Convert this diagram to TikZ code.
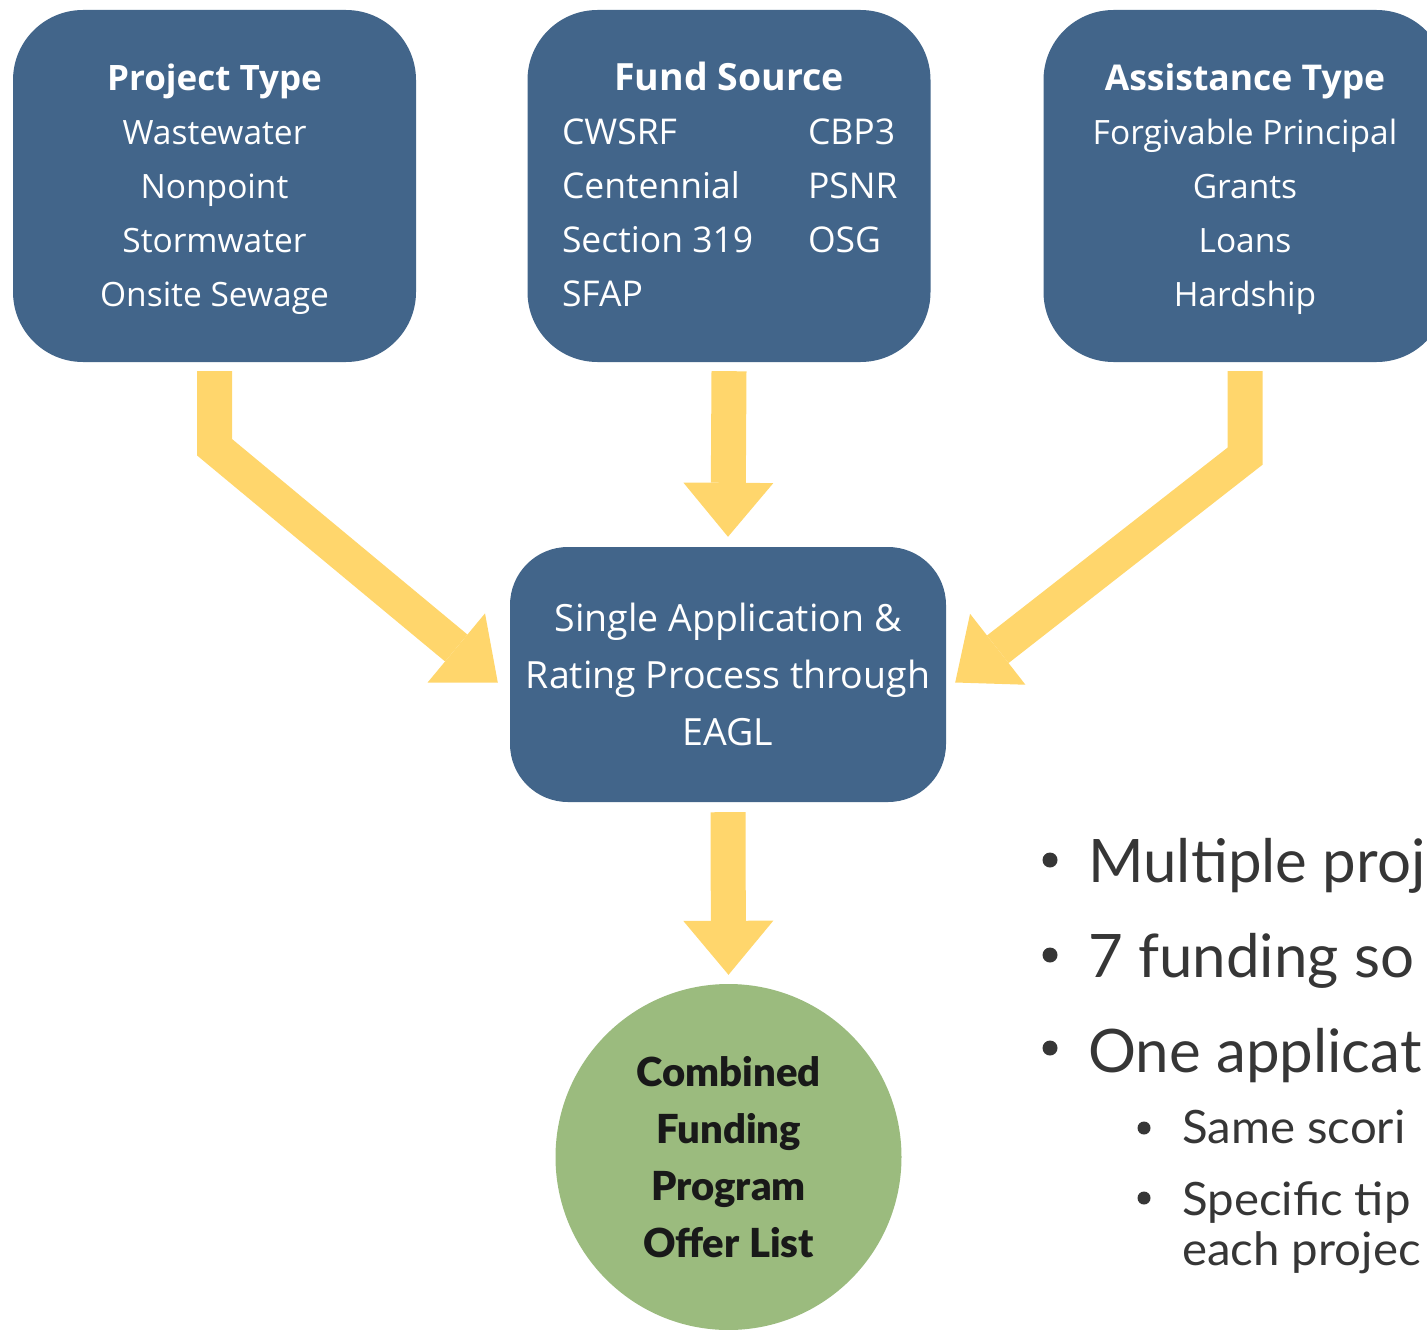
\documentclass[tikz,border=0pt]{standalone}
\usepackage{fontspec}
\setmainfont{Open Sans}
\newfontfamily\latoblack{Lato Black}
\newfontfamily\bulfont{Lato}
\newfontfamily\subfont[FakeStretch=1.03]{Lato}
\usetikzlibrary{arrows.meta}
\definecolor{boxblue}{HTML}{42658A}
\definecolor{arrowyel}{HTML}{FFD66C}
\definecolor{circgreen}{HTML}{9BBB7E}
\definecolor{bultext}{HTML}{363636}
\newcommand{\topstrut}{\rule{0pt}{36pt}}
\newcommand{\botstrut}{\rule[-12pt]{0pt}{12pt}}
\begin{document}
\begin{tikzpicture}[x=1pt,y=-1pt,
  topbox/.style={fill=boxblue, rounded corners=70pt, minimum width=403pt, minimum height=352pt,
    inner sep=0pt, text=white, align=center, font=\fontsize{33.5}{54}\selectfont},
  midbox/.style={fill=boxblue, rounded corners=58pt, minimum width=436pt, minimum height=255pt,
    inner sep=0pt, text=white, align=center, font=\fontsize{37.5}{57}\selectfont},
  endcirc/.style={circle, fill=circgreen, minimum size=346pt, inner sep=0pt, align=center,
    text=black!90, font=\latoblack\fontsize{40}{57}\selectfont},
  bigarrow/.style={draw=arrowyel, line width=35pt, line join=miter,
    -{Triangle[length=54pt,width=90pt,line width=0pt]}},
  bultxt/.style={anchor=base west, inner sep=0pt, text=bultext, font=\bulfont\fontsize{60}{60}\selectfont},
  subtxt/.style={anchor=base west, inner sep=0pt, text=bultext, font=\subfont\fontsize{46}{60}\selectfont}
]
\useasboundingbox (0,0) rectangle (1427,1330);
\clip (0,0) rectangle (1427,1330);

\node[topbox] (pt) at (214.5,186) {\topstrut{\fontsize{35}{54}\selectfont\bfseries Project Type}\\Wastewater\\Nonpoint\\Stormwater\\Onsite Sewage\botstrut};
\node[topbox, font=\fontsize{35.5}{54}\selectfont] (fs) at (729,186) {\topstrut{\fontsize{37.5}{54}\selectfont\bfseries Fund Source}\\
  \makebox[246pt][l]{CWSRF}\makebox[88pt][l]{CBP3}\\
  \makebox[246pt][l]{Centennial}\makebox[88pt][l]{PSNR}\\
  \makebox[246pt][l]{Section 319}\makebox[88pt][l]{OSG}\\
  \makebox[246pt][l]{SFAP}\makebox[88pt][l]{}\botstrut};
\node[topbox] (at) at (1245,186) {\topstrut{\fontsize{35.5}{54}\selectfont\bfseries Assistance Type}\\Forgivable Principal\\Grants\\Loans\\Hardship\botstrut};

\node[midbox] (app) at (728,674.5) {Single Application \&\\Rating Process through\\EAGL};
\node[endcirc] (circ) at (728.5,1157) {Combined\\Funding\\Program\\Offer List};

\draw[bigarrow] ([yshift=-9pt]pt.south) -- ++(0,76) -- ([xshift=-12pt,yshift=-8pt]app.west);
\draw[bigarrow] ([yshift=-9pt]fs.south) -- ([yshift=10pt]app.north);
\draw[bigarrow] ([yshift=-9pt]at.south) -- ++(0,85) -- ([xshift=9pt,yshift=-8pt]app.east);
\draw[bigarrow] ([yshift=-10pt]app.south) -- ([yshift=9pt]circ.north);

\fill[bultext] (1050,860) circle (7.5);
\fill[bultext] (1050,955) circle (7.5);
\fill[bultext] (1050,1048) circle (7.5);
\fill[bultext] (1144,1128) circle (6.5);
\fill[bultext] (1144,1198) circle (6.5);
\node[bultxt] (l1) at (1088,882) {Multiple proj};
\node[bultxt] (l2) at (1088,977) {7 funding so};
\node[bultxt] (l3) at (1088,1072) {One applicat};
\node[subtxt] (l4) at (1182,1143) {Same scori};
\node[subtxt] (l5) at (1182,1215) {Specific tip};
\node[subtxt] (l6) at (1182,1265) {each projec};
\end{tikzpicture}
\end{document}
